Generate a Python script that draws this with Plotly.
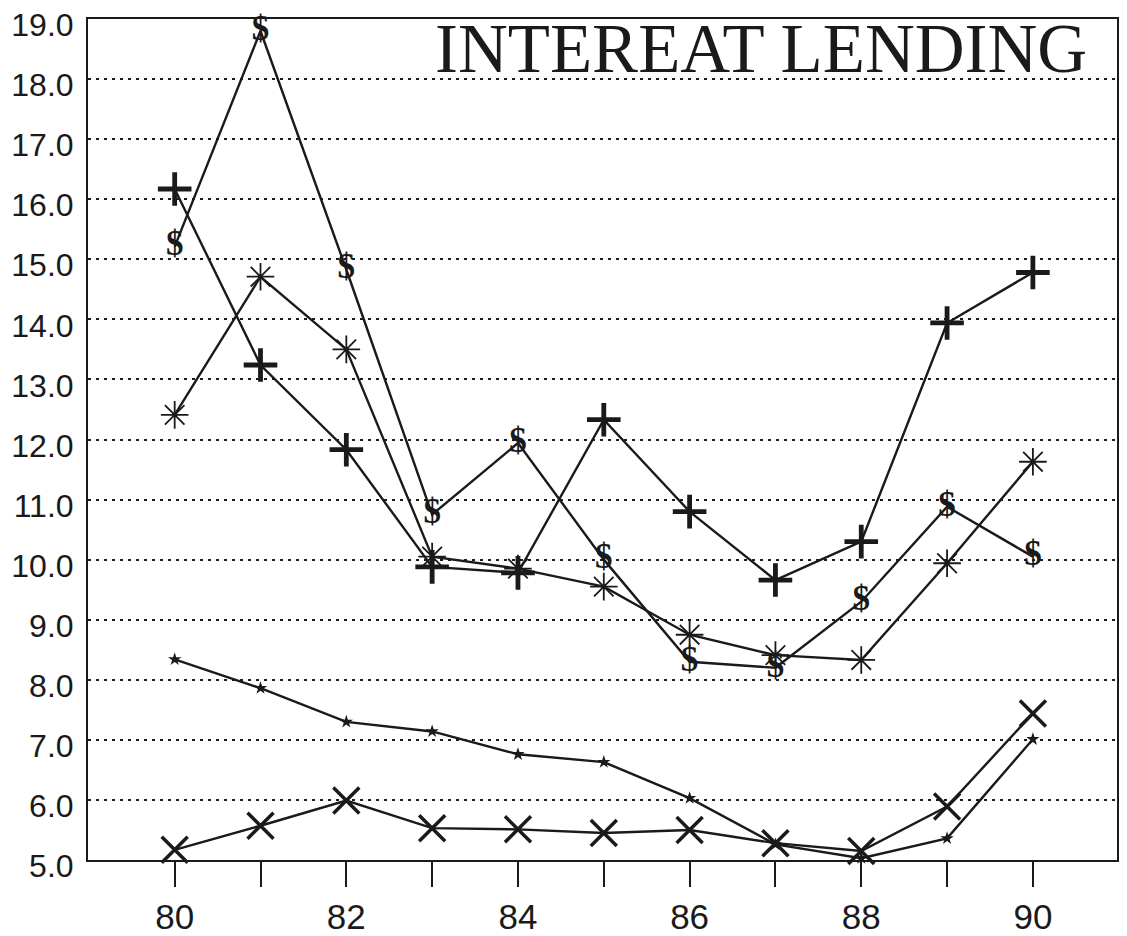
import plotly.graph_objects as go

years = [80, 81, 82, 83, 84, 85, 86, 87, 88, 89, 90]
x_tick_text = ["80", "", "82", "", "84", "", "86", "", "88", "", "90"]
y_tick_vals = [5, 6, 7, 8, 9, 10, 11, 12, 13, 14, 15, 16, 17, 18, 19]
y_tick_text = ["5.0", "6.0", "7.0", "8.0", "9.0", "10.0", "11.0", "12.0", "13.0",
               "14.0", "15.0", "16.0", "17.0", "18.0", "19.0"]

plus_series = [16.17, 13.24, 11.83, 9.88, 9.78, 12.33, 10.8, 9.66, 10.3, 13.94, 14.78]
dollar_series = [15.21, 18.8, 14.83, 10.75, 11.94, 10.0, 8.3, 8.2, 9.3, 10.88, 10.05]
asterisk_series = [12.41, 14.71, 13.5, 10.05, 9.85, 9.55, 8.75, 8.41, 8.33, 9.94, 11.63]
small_star_series = [8.34, 7.86, 7.3, 7.14, 6.76, 6.63, 6.03, 5.26, 5.03, 5.36, 7.01]
x_series = [5.17, 5.57, 5.99, 5.53, 5.51, 5.45, 5.5, 5.28, 5.15, 5.89, 7.44]

title_text = "INTEREAT LENDING"

INK = "#1a1a1a"
LW = 2.4

fig = go.Figure()

fig.add_trace(go.Scatter(
    x=years, y=small_star_series, mode="lines+markers",
    line=dict(color=INK, width=LW),
    marker=dict(symbol="star", size=10, color=INK),
    showlegend=False, cliponaxis=False))

fig.add_trace(go.Scatter(
    x=years, y=x_series, mode="lines+markers",
    line=dict(color=INK, width=LW),
    marker=dict(symbol="x-thin-open", size=26, color=INK, line=dict(color=INK, width=3.5)),
    showlegend=False, cliponaxis=False))

fig.add_trace(go.Scatter(
    x=years, y=asterisk_series, mode="lines+markers",
    line=dict(color=INK, width=LW),
    marker=dict(symbol="asterisk-open", size=23, color=INK, line=dict(color=INK, width=1.8)),
    showlegend=False, cliponaxis=False))

fig.add_trace(go.Scatter(
    x=years, y=dollar_series, mode="lines+text",
    line=dict(color=INK, width=LW),
    text=["$"] * len(years), textposition="middle center",
    textfont=dict(family="Liberation Serif", size=35, color=INK, weight="bold"),
    showlegend=False, cliponaxis=False))

fig.add_trace(go.Scatter(
    x=years, y=plus_series, mode="lines+markers",
    line=dict(color=INK, width=LW),
    marker=dict(symbol="cross-thin-open", size=24, color=INK, line=dict(color=INK, width=4.8)),
    showlegend=False, cliponaxis=False))

fig.add_annotation(
    text=title_text, xref="paper", yref="paper",
    x=0.973, y=0.964, xanchor="right", yanchor="middle",
    showarrow=False,
    font=dict(family="Liberation Serif", size=69, color=INK))

fig.update_layout(
    width=1127, height=936,
    margin=dict(l=80, r=18, t=11, b=84, autoexpand=False),
    paper_bgcolor="white", plot_bgcolor="white",
    font=dict(family="Liberation Sans", color=INK),
    xaxis=dict(
        range=[78.99, 90.98], automargin=False,
        tickvals=years, ticktext=x_tick_text,
        ticks="outside", ticklen=25, tickwidth=2, tickcolor=INK,
        ticklabelstandoff=0, ticklabeloverflow="allow",
        showgrid=False, zeroline=False,
        showline=True, linecolor=INK, linewidth=2, mirror=True,
        tickfont=dict(family="Liberation Sans", size=35, color=INK),
    ),
    yaxis=dict(
        range=[5, 19], automargin=False,
        tickvals=y_tick_vals, ticktext=y_tick_text,
        ticks="", showgrid=True, gridcolor=INK, gridwidth=2, griddash="3px,5px",
        zeroline=False,
        showline=True, linecolor=INK, linewidth=2, mirror=True,
        ticklabelstandoff=6, ticklabelshift=6, ticklabeloverflow="allow",
        tickfont=dict(family="Liberation Sans", size=32, color=INK),
    ),
)

fig.write_html("out.html")
